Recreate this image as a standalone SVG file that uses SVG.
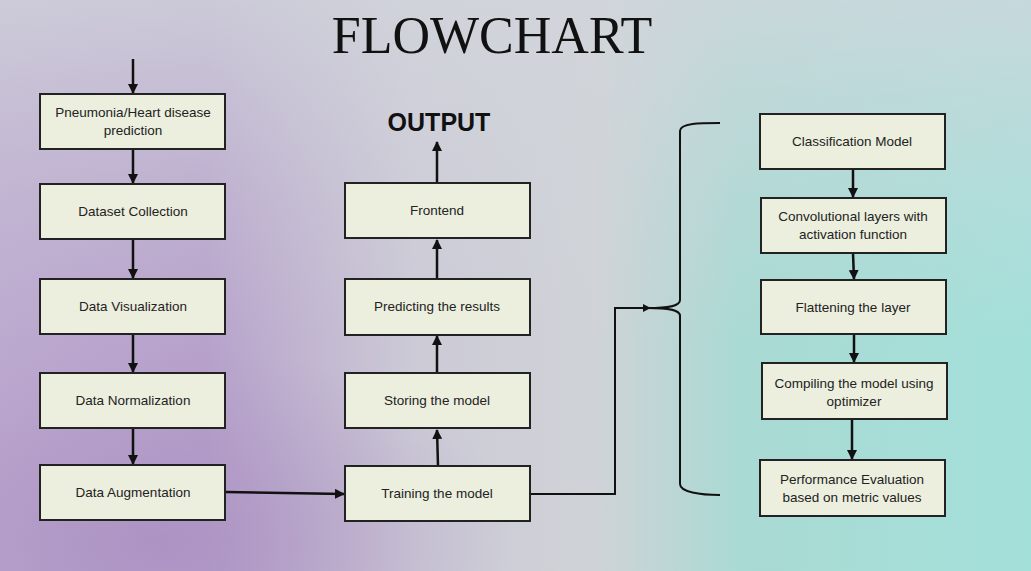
<svg xmlns="http://www.w3.org/2000/svg" width="1031" height="571" viewBox="0 0 1031 571">
<defs>
<linearGradient id="bg" x1="0" y1="0" x2="1" y2="0">
<stop offset="0" stop-color="#bca9cf"/>
<stop offset="0.2" stop-color="#b7a2cb"/>
<stop offset="0.4" stop-color="#cccad6"/>
<stop offset="0.58" stop-color="#cfd3d7"/>
<stop offset="0.72" stop-color="#a9dad3"/>
<stop offset="1" stop-color="#a4e0da"/>
</linearGradient>
<linearGradient id="topfade" x1="0" y1="0" x2="0" y2="1">
<stop offset="0" stop-color="#d2d6dc" stop-opacity="0.75"/>
<stop offset="0.35" stop-color="#d2d6dc" stop-opacity="0.25"/>
<stop offset="0.6" stop-color="#d2d6dc" stop-opacity="0"/>
</linearGradient>
<radialGradient id="purp" cx="0.15" cy="0.95" r="0.35">
<stop offset="0" stop-color="#a88cc0" stop-opacity="0.7"/>
<stop offset="1" stop-color="#a88cc0" stop-opacity="0"/>
</radialGradient>
<marker id="ah" viewBox="0 0 10 10" refX="9" refY="5" markerWidth="4" markerHeight="4" orient="auto" markerUnits="strokeWidth">
<path d="M0,0 L10,5 L0,10 z" fill="#111"/>
</marker>
<style>
.box{fill:#ecefde;stroke:#222;stroke-width:2}
.t{font-family:"Liberation Sans",Arial,sans-serif;font-size:13.5px;fill:#222;text-anchor:middle}
.c{fill:none;stroke:#111;stroke-width:2.5}
.c2{fill:none;stroke:#111;stroke-width:2}
</style>
</defs>
<rect width="1031" height="571" fill="url(#bg)"/>
<rect width="1031" height="571" fill="url(#topfade)"/>
<rect width="1031" height="571" fill="url(#purp)"/>
<text x="492" y="53" font-family="'Liberation Serif','Times New Roman',serif" font-size="52" fill="#111" text-anchor="middle">FLOWCHART</text>
<text x="439" y="131" font-family="'Liberation Sans',Arial,sans-serif" font-size="25" font-weight="bold" fill="#111" text-anchor="middle">OUTPUT</text>

<g id="connectors">
<line class="c" x1="133" y1="59" x2="133" y2="93" marker-end="url(#ah)"/>
<line class="c" x1="133" y1="149" x2="133" y2="183" marker-end="url(#ah)"/>
<line class="c" x1="133" y1="239" x2="133" y2="278" marker-end="url(#ah)"/>
<line class="c" x1="133" y1="334" x2="133" y2="372" marker-end="url(#ah)"/>
<line class="c" x1="133" y1="428" x2="133" y2="464" marker-end="url(#ah)"/>
<line class="c" x1="226" y1="492" x2="344" y2="494" marker-end="url(#ah)"/>
<line class="c" x1="438" y1="466" x2="437" y2="430" marker-end="url(#ah)"/>
<line class="c" x1="437" y1="373" x2="437" y2="336" marker-end="url(#ah)"/>
<line class="c" x1="437" y1="279" x2="437" y2="240" marker-end="url(#ah)"/>
<line class="c" x1="437" y1="183" x2="437" y2="142" marker-end="url(#ah)"/>
<polyline class="c2" points="531,494 615,494 615,308 650,308" marker-end="url(#ah)"/>
<path class="c2" d="M720,123 C700,123 680,123 680,131 L680,300 C680,306 670,308 648,308 C670,308 680,310 680,316 L680,484 C680,492 700,495 720,495"/>
<line class="c" x1="853" y1="169" x2="853" y2="197" marker-end="url(#ah)"/>
<line class="c" x1="853" y1="253" x2="854" y2="279" marker-end="url(#ah)"/>
<line class="c" x1="854" y1="334" x2="854" y2="362" marker-end="url(#ah)"/>
<line class="c" x1="852" y1="419" x2="852" y2="459" marker-end="url(#ah)"/>
</g>

<g id="n1"><rect class="box" x="40" y="94" width="185" height="55"/><text class="t" x="133" y="117">Pneumonia/Heart disease</text><text class="t" x="133" y="135">prediction</text></g>
<g id="n2"><rect class="box" x="40" y="184" width="185" height="55"/><text class="t" x="133" y="216">Dataset Collection</text></g>
<g id="n3"><rect class="box" x="40" y="279" width="185" height="55"/><text class="t" x="133" y="311">Data Visualization</text></g>
<g id="n4"><rect class="box" x="40" y="373" width="185" height="55"/><text class="t" x="133" y="405">Data Normalization</text></g>
<g id="n5"><rect class="box" x="40" y="465" width="185" height="55"/><text class="t" x="133" y="497">Data Augmentation</text></g>

<g id="m1"><rect class="box" x="345" y="183" width="185" height="55"/><text class="t" x="437" y="215">Frontend</text></g>
<g id="m2"><rect class="box" x="345" y="279" width="185" height="56"/><text class="t" x="437" y="311">Predicting the results</text></g>
<g id="m3"><rect class="box" x="345" y="373" width="185" height="55"/><text class="t" x="437" y="405">Storing the model</text></g>
<g id="m4"><rect class="box" x="345" y="466" width="185" height="55"/><text class="t" x="437" y="498">Training the model</text></g>

<g id="r1"><rect class="box" x="760" y="114" width="185" height="55"/><text class="t" x="852" y="146">Classification Model</text></g>
<g id="r2"><rect class="box" x="761" y="198" width="185" height="55"/><text class="t" x="853" y="221">Convolutional layers with</text><text class="t" x="853" y="239">activation function</text></g>
<g id="r3"><rect class="box" x="761" y="280" width="185" height="54"/><text class="t" x="853" y="312">Flattening the layer</text></g>
<g id="r4"><rect class="box" x="762" y="363" width="185" height="56"/><text class="t" x="854" y="388">Compiling the model using</text><text class="t" x="854" y="406">optimizer</text></g>
<g id="r5"><rect class="box" x="760" y="460" width="185" height="56"/><text class="t" x="852" y="484">Performance Evaluation</text><text class="t" x="852" y="502">based on metric values</text></g>
</svg>
